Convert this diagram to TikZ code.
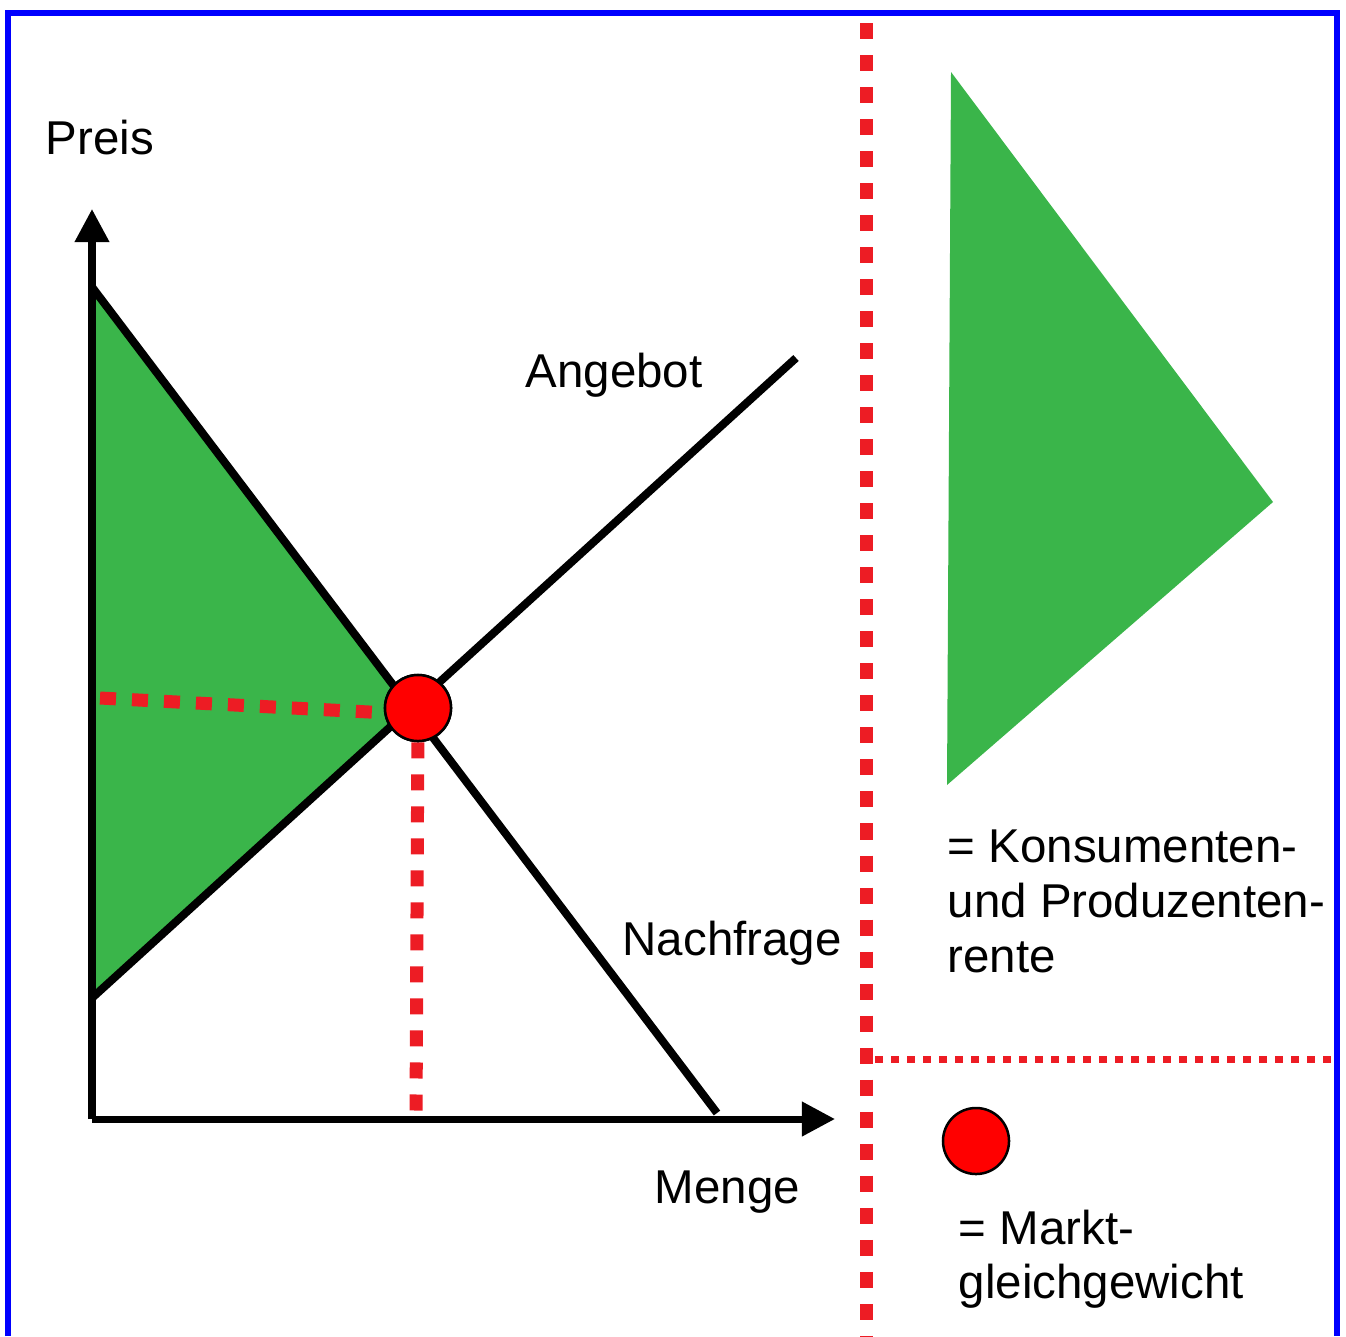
\documentclass[tikz,border=0pt]{standalone}
\usepackage{fontspec}
\setmainfont{Liberation Sans}
\usepackage{tikz}
\usetikzlibrary{positioning, calc, arrows.meta}

\definecolor{rentgreen}{RGB}{58,181,74}
\definecolor{eqred}{RGB}{255,0,0}
\definecolor{guidered}{RGB}{237,28,36}
\definecolor{frameblue}{RGB}{0,0,255}

\begin{document}
\begin{tikzpicture}[x=0.01cm, y=-0.01cm,
    axis/.style={line width=0.07cm, -{Triangle[length=0.33cm, width=0.33cm]}},
    curve/.style={line width=0.08cm, black},
    guide/.style={guidered, line width=0.13cm, dash pattern=on 0.16cm off 0.16cm},
    eqdot/.style={circle, draw=black, line width=0.025cm, fill=eqred, minimum size=0.66cm, inner sep=0pt},
    lbl/.style={font=\fontsize{13.5}{15.6}\selectfont, inner sep=0pt}]
    \useasboundingbox (0,0) rectangle (1346,1336);
    \draw[frameblue, line width=0.06cm] (8,1336) -- (8,13) -- (1337,13) -- (1337,1336);
    \coordinate (origin) at (92,1119);
    \coordinate (ytip) at (92,209);
    \coordinate (xtip) at (835,1119);
    \coordinate (dtop) at (92,287);
    \coordinate (dbot) at (717,1113);
    \coordinate (sbot) at (92,998);
    \coordinate (stop) at (796,358);
    \coordinate (cross) at (intersection of dtop--dbot and sbot--stop);
    \fill[rentgreen] (dtop) -- (cross) -- (sbot) -- cycle;
    \node[eqdot] (eq) at (418,708) {};
    \coordinate (pstar) at (100,698);
    \coordinate (qstar) at (416,1118);
    \draw[guide] (pstar) -- (eq.188);
    \draw[guide] (eq) -- (qstar);
    \draw[axis] (origin) -- (ytip);
    \draw[axis] (origin) -- (xtip);
    \draw[curve] (dtop) -- (dbot);
    \draw[curve] (sbot) -- (stop);
    \node[eqdot] at (eq) {};
    \coordinate (divtop) at (866,23);
    \coordinate (divbot) at (866,1336);
    \draw[guide] (divtop) -- (divbot);
    \coordinate (rowleft) at (875,1059);
    \coordinate (rowright) at (1333,1059);
    \draw[guidered, line width=0.07cm, dash pattern=on 0.08cm off 0.08cm] (rowleft) -- (rowright);
    \fill[rentgreen] (951,72) -- (1273,502) -- (947,785) -- cycle;
    \node[eqdot] (eqkey) at (976,1141) {};
    \node[lbl, anchor=base west] (preis) at (45,154) {Preis};
    \node[lbl, anchor=base west] (angebot) at (525,387) {Angebot};
    \node[lbl, anchor=base west] (nachfrage) at (622,955) {Nachfrage};
    \node[lbl, anchor=base west] (menge) at (654,1203) {Menge};
    \node[lbl, anchor=north west, align=left] (rente) at (947,829) {= Konsumenten-\\und Produzenten-\\rente};
    \node[lbl, anchor=north west, align=left] (markt) at (958,1209) {= Markt-\\gleichgewicht};
\end{tikzpicture}
\end{document}
